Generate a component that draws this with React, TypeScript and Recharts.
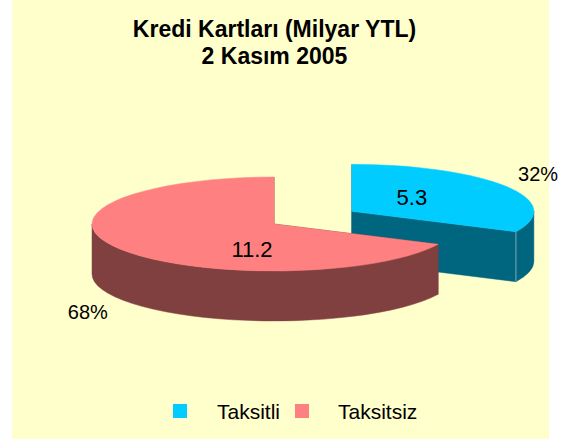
import React from "react";
import { PieChart, Pie, Legend } from "recharts";

const categories = ["Taksitli", "Taksitsiz"];
const values = [5.3, 11.2];

const TOP_COLORS = ["#00CCFF", "#FF8080"];
const SIDE_COLORS = ["#006680", "#804040"];
const EXPLODE = [92, 0];
const TILT = 47 / 182;
const DEPTH = 50;
const FONT = "'Liberation Sans', Arial, sans-serif";
// where the value label sits, measured from the slice centre
const VALUE_OFFSET = [
  [60, -14],
  [-22, 25],
];

const data = categories.map((name, i) => ({ name, value: values[i] }));

const RAD = Math.PI / 180;

// draws one slice as a tilted 3d wedge, using the angles recharts computed
function Slice3D(props: any) {
  const { cx, cy, outerRadius, startAngle, endAngle, index, value, percent } = props;
  const rx = outerRadius;
  const ry = outerRadius * TILT;
  const mid = (startAngle + endAngle) / 2;
  const off = EXPLODE[index] ?? 0;
  const ex = cx + off * Math.cos(mid * RAD);
  const ey = cy - off * TILT * Math.sin(mid * RAD);
  const pt = (a: number, dz = 0) => [ex + rx * Math.cos(a * RAD), ey - ry * Math.sin(a * RAD) + dz];
  const hi = Math.max(startAngle, endAngle);
  const lo = Math.min(startAngle, endAngle);
  const large = hi - lo > 180 ? 1 : 0;

  const [hx, hy] = pt(hi);
  const [lx, ly] = pt(lo);
  const top = `M${ex},${ey} L${hx},${hy} A${rx},${ry} 0 ${large} 1 ${lx},${ly} Z`;

  const cuts = [hi, lo].map((a) => {
    const [x, y] = pt(a);
    return `M${ex},${ey} L${x},${y} L${x},${y + DEPTH} L${ex},${ey + DEPTH} Z`;
  });

  const walls: string[] = [];
  for (let k = -2; k <= 2; k++) {
    const a0 = Math.max(lo, -180 + 360 * k);
    const a1 = Math.min(hi, 360 * k);
    if (a1 - a0 <= 0.01) continue;
    const [x1, y1] = pt(a1);
    const [x0, y0] = pt(a0);
    walls.push(
      `M${x1},${y1} A${rx},${ry} 0 0 1 ${x0},${y0} L${x0},${y0 + DEPTH} A${rx},${ry} 0 0 0 ${x1},${y1 + DEPTH} Z`
    );
  }

  const side = SIDE_COLORS[index];
  const s = Math.sin(mid * RAD);
  const px = ex + (rx + 38) * Math.cos(mid * RAD);
  const py = ey - (ry + 24) * s + (s < 0 ? DEPTH : 0);
  const [vx, vy] = VALUE_OFFSET[index] ?? [0, 0];
  const [lx2, ly2] = pt(lo);

  return (
    <g>
      {cuts.map((d, i) => (
        <path key={`c${i}`} d={d} fill={side} stroke={side} strokeWidth={0.5} />
      ))}
      {walls.map((d, i) => (
        <path key={`w${i}`} d={d} fill={side} stroke={side} strokeWidth={0.5} />
      ))}
      {lo > -90 && (
        <line x1={lx2} y1={ly2} x2={lx2} y2={ly2 + DEPTH} stroke="#7fa9b5" strokeWidth={1} />
      )}
      <path d={top} fill={TOP_COLORS[index]} stroke={TOP_COLORS[index]} strokeWidth={0.5} />
      <text
        x={ex + vx}
        y={ey + vy}
        textAnchor="middle"
        dominantBaseline="central"
        fontFamily={FONT}
        fontSize={22}
        fill="#000"
      >
        {Number(value).toFixed(1)}
      </text>
      <text
        x={px}
        y={py}
        textAnchor="middle"
        dominantBaseline="central"
        fontFamily={FONT}
        fontSize={20}
        fill="#000"
      >
        {`${Math.round(percent * 100)}%`}
      </text>
    </g>
  );
}

const LEGEND_X = [173, 295];
const LEGEND_TEXT_X = [217, 338];

function renderLegend() {
  return (
    <div style={{ position: "relative", height: 41 }}>
      {categories.map((name, i) => (
        <React.Fragment key={name}>
          <div
            style={{
              position: "absolute",
              left: LEGEND_X[i],
              top: 6,
              width: 14,
              height: 14,
              background: TOP_COLORS[i],
            }}
          />
          <div
            style={{
              position: "absolute",
              left: LEGEND_TEXT_X[i],
              top: 2.5,
              fontFamily: FONT,
              fontSize: 21,
              lineHeight: "21px",
              color: "#000",
              whiteSpace: "nowrap",
            }}
          >
            {name}
          </div>
        </React.Fragment>
      ))}
    </div>
  );
}

export default function App() {
  return (
    <div style={{ position: "absolute", left: 0, top: 0, width: 571, height: 439, background: "#fff" }}>
      <div style={{ position: "absolute", left: 12, top: 0, width: 537, height: 439, background: "#FFFFCC" }} />
      <div style={{ position: "absolute", left: 0, top: 0 }}>
        <PieChart width={571} height={439} margin={{ top: 0, right: 0, bottom: 0, left: 0 }}>
          <Pie
            data={data}
            dataKey="value"
            nameKey="name"
            cx={274}
            cy={224}
            outerRadius={182}
            startAngle={90}
            endAngle={-270}
            fill="none"
            stroke="none"
            label={Slice3D}
            labelLine={false}
            isAnimationActive={false}
          />
          <Legend verticalAlign="bottom" content={renderLegend} />
        </PieChart>
      </div>
      <div
        style={{
          position: "absolute",
          left: 0,
          top: 16,
          width: 549,
          textAlign: "center",
          fontFamily: FONT,
          fontWeight: "bold",
          fontSize: 23,
          lineHeight: "27px",
          color: "#000",
        }}
      >
        Kredi Kartları (Milyar YTL)
        <br />
        2 Kasım 2005
      </div>
    </div>
  );
}
